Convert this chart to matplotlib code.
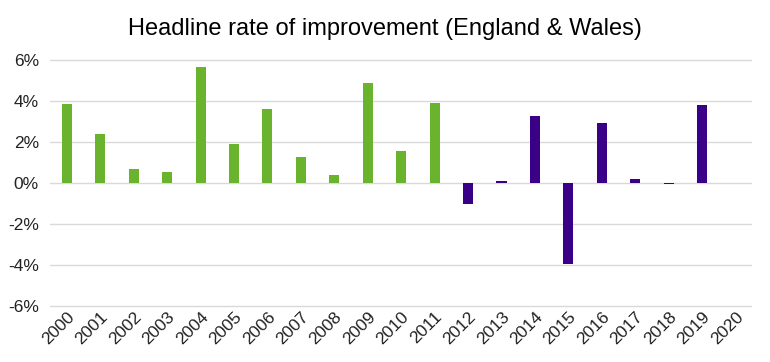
import matplotlib.pyplot as plt
from matplotlib.ticker import FuncFormatter

plt.rcParams["font.family"] = ["Liberation Sans", "DejaVu Sans"]

years = [str(y) for y in range(2000, 2021)]
improvement = [3.85, 2.4, 0.7, 0.55, 5.65, 1.9, 3.6, 1.27, 0.4, 4.87, 1.56, 3.9,
               -1.02, 0.08, 3.27, -3.95, 2.93, 0.18, -0.06, 3.8, 0.0]
green_years = 12  # 2000-2011 drawn green, the rest purple

colors = ["#6ab42d" if i < green_years else "#3a0088" for i in range(len(years))]

fig = plt.figure(figsize=(7.7, 3.62), dpi=100)
ax = fig.add_axes([0.065, 0.150, 0.912, 0.689])
ax.bar(years, improvement, width=0.3, color=colors, zorder=3)

ax.set_ylim(-6.1, 6.1)
ax.set_xlim(-0.5, len(years) - 0.5)
ax.set_yticks(range(-6, 7, 2))
ax.yaxis.set_major_formatter(FuncFormatter(lambda v, p: f"{v:.0f}%"))
ax.grid(axis="y", color="#d9d9d9", linewidth=1, zorder=0)
for s in ax.spines.values():
    s.set_visible(False)
ax.tick_params(length=0, labelsize=12.5, colors="#222222")
ax.tick_params(axis="x", pad=1)
ax.tick_params(axis="y", pad=8)
plt.setp(ax.get_xticklabels(), rotation=45, ha="right", rotation_mode="anchor")

fig.suptitle("Headline rate of improvement (England & Wales)", y=0.95, fontsize=17)
fig.savefig("out.png")
